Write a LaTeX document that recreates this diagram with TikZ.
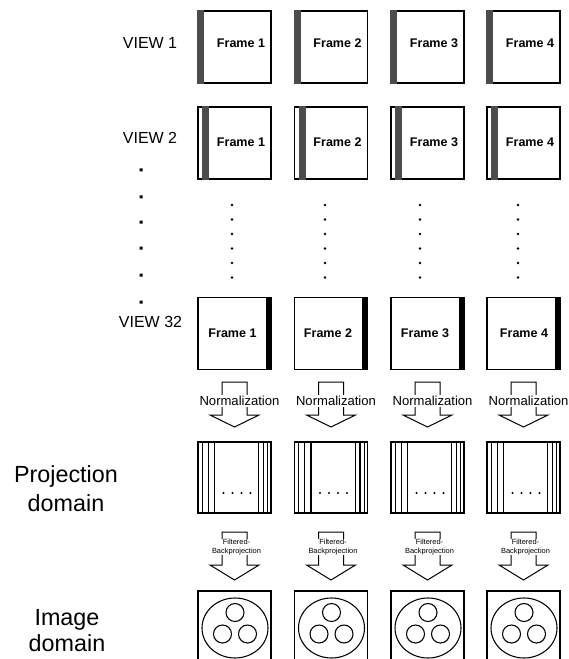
\documentclass[tikz,border=0pt]{standalone}
\usepackage{fontspec}
\setmainfont{Liberation Sans}
\usepackage{tikz}
\newcommand{\stripcolor}{black!70}
\newcommand{\boxwidth}{54.75pt}
\newcommand{\boxheight}{54pt}
\newcommand{\smallr}{6.75pt}

\begin{document}
\begin{tikzpicture}[x=0.75pt, y=-0.75pt,
frame/.style={draw, line width=0.9pt, minimum width=\boxwidth, minimum height=\boxheight, inner sep=0pt},
ftext/.style={font=\fontsize{9.4}{11}\selectfont\bfseries},
view/.style={font=\fontsize{12}{14}\selectfont},
domaintext/.style={align=center},
blockarrow/.style={draw, line width=0.75pt, line join=miter},
normtext/.style={fill=white, inner sep=0.6pt, font=\fontsize{9.8}{11}\selectfont},
fbptext/.style={fill=white, inner sep=0.4pt, align=center, font=\fontsize{5.6}{6.3}\selectfont},
pline/.style={line width=0.7pt},
thickpline/.style={line width=1.3pt}]
\clip (0,0) rectangle (568,659);
%labels
\node[view] (v1) at (150,43) {VIEW 1};
\node[view] (v2) at (150,138) {VIEW 2};
\node[view] (v32) at (150.5,322) {VIEW 32};
\fill (139.5,168.5) rectangle (142.5,171.5) (139.5,195.5) rectangle (142.5,198.5) (139.5,220.5) rectangle (142.5,223.5) (139.5,246.5) rectangle (142.5,249.5) (139.5,273.5) rectangle (142.5,276.5) (139.5,300.5) rectangle (142.5,303.5);
\node[domaintext, font=\fontsize{17.5}{21.75}\selectfont] (pd) at (66,488.5) {Projection\\domain};
\node[domaintext, font=\fontsize{17.5}{19.5}\selectfont] (id) at (67,631) {Image\\domain};
%view 1
\node[frame] (a1) at (234.5,47) {};
\node[frame] (a2) at (331,47) {};
\node[frame] (a3) at (427.5,47) {};
\node[frame] (a4) at (523.5,47) {};
\fill[\stripcolor] (a1.north west) rectangle ([xshift=5.25pt]a1.south west);
\fill[\stripcolor] (a2.north west) rectangle ([xshift=5.25pt]a2.south west);
\fill[\stripcolor] (a3.north west) rectangle ([xshift=5.25pt]a3.south west);
\fill[\stripcolor] (a4.north west) rectangle ([xshift=5.25pt]a4.south west);
\node[ftext] (ta1) at (241,43) {Frame 1};
\node[ftext] (ta2) at (337.5,43) {Frame 2};
\node[ftext] (ta3) at (434,43) {Frame 3};
\node[ftext] (ta4) at (530,43) {Frame 4};
%view 2
\node[frame] (b1) at (234.5,143) {};
\node[frame] (b2) at (331,143) {};
\node[frame] (b3) at (427.5,143) {};
\node[frame] (b4) at (523.5,143) {};
\fill[\stripcolor] ([xshift=3.75pt]b1.north west) rectangle ([xshift=9pt]b1.south west);
\fill[\stripcolor] ([xshift=3.75pt]b2.north west) rectangle ([xshift=9pt]b2.south west);
\fill[\stripcolor] ([xshift=3.75pt]b3.north west) rectangle ([xshift=9pt]b3.south west);
\fill[\stripcolor] ([xshift=3.75pt]b4.north west) rectangle ([xshift=9pt]b4.south west);
\node[ftext] (tb1) at (241,142) {Frame 1};
\node[ftext] (tb2) at (337.5,142) {Frame 2};
\node[ftext] (tb3) at (434,142) {Frame 3};
\node[ftext] (tb4) at (530,142) {Frame 4};
%dots
\fill (232,205) circle (1.1pt) (232,219.5) circle (1.1pt) (232,234) circle (1.1pt) (232,248.5) circle (1.1pt) (232,263) circle (1.1pt) (232,277.5) circle (1.1pt);
\fill (325,205) circle (1.1pt) (325,219.5) circle (1.1pt) (325,234) circle (1.1pt) (325,248.5) circle (1.1pt) (325,263) circle (1.1pt) (325,277.5) circle (1.1pt);
\fill (420,205) circle (1.1pt) (420,219.5) circle (1.1pt) (420,234) circle (1.1pt) (420,248.5) circle (1.1pt) (420,263) circle (1.1pt) (420,277.5) circle (1.1pt);
\fill (518,205) circle (1.1pt) (518,219.5) circle (1.1pt) (518,234) circle (1.1pt) (518,248.5) circle (1.1pt) (518,263) circle (1.1pt) (518,277.5) circle (1.1pt);
%view 32
\node[frame] (c1) at (234.5,333.5) {};
\node[frame] (c2) at (331,333.5) {};
\node[frame] (c3) at (427.5,333.5) {};
\node[frame] (c4) at (523.5,333.5) {};
\fill ([xshift=-4.5pt]c1.north east) rectangle (c1.south east);
\fill ([xshift=-4.5pt]c2.north east) rectangle (c2.south east);
\fill ([xshift=-4.5pt]c3.north east) rectangle (c3.south east);
\fill ([xshift=-4.5pt]c4.north east) rectangle (c4.south east);
\node[ftext] (tc1) at (232.5,333) {Frame 1};
\node[ftext] (tc2) at (328,333) {Frame 2};
\node[ftext] (tc3) at (425,333) {Frame 3};
\node[ftext] (tc4) at (524,333) {Frame 4};
%normalization
\draw[blockarrow] (222,415) -- (222,382) -- (247,382) -- (247,415) -- (259,415) -- (234.5,427) -- (210,415) -- cycle;
\draw[blockarrow] (318.5,415) -- (318.5,382) -- (343.5,382) -- (343.5,415) -- (355.5,415) -- (331,427) -- (306.5,415) -- cycle;
\draw[blockarrow] (415,415) -- (415,382) -- (440,382) -- (440,415) -- (452,415) -- (427.5,427) -- (403,415) -- cycle;
\draw[blockarrow] (511,415) -- (511,382) -- (536,382) -- (536,415) -- (548,415) -- (523.5,427) -- (499,415) -- cycle;
\node[normtext] (n1) at (239.5,401) {Normalization};
\node[normtext] (n2) at (336,401) {Normalization};
\node[normtext] (n3) at (432.5,401) {Normalization};
\node[normtext] (n4) at (528.5,401) {Normalization};
%projection domain
\node[frame, minimum height=53.25pt] (p1) at (234.5,477.5) {};
\node[frame, minimum height=53.25pt] (p2) at (331,477.5) {};
\node[frame, minimum height=53.25pt] (p3) at (427.5,477.5) {};
\node[frame, minimum height=53.25pt] (p4) at (523.5,477.5) {};
\draw[pline] ([xshift=3.75pt]p1.north west) -- ([xshift=3.75pt]p1.south west);
\draw[pline] ([xshift=8.25pt]p1.north west) -- ([xshift=8.25pt]p1.south west);
\draw[thickpline] ([xshift=12.75pt]p1.north west) -- ([xshift=12.75pt]p1.south west);
\draw[pline] ([xshift=-9.75pt]p1.north east) -- ([xshift=-9.75pt]p1.south east);
\draw[thickpline] ([xshift=-6pt]p1.north east) -- ([xshift=-6pt]p1.south east);
\draw[pline] ([xshift=-3pt]p1.north east) -- ([xshift=-3pt]p1.south east);
\draw[pline] ([xshift=3.75pt]p2.north west) -- ([xshift=3.75pt]p2.south west);
\draw[pline] ([xshift=8.25pt]p2.north west) -- ([xshift=8.25pt]p2.south west);
\draw[thickpline] ([xshift=12.75pt]p2.north west) -- ([xshift=12.75pt]p2.south west);
\draw[pline] ([xshift=-9.75pt]p2.north east) -- ([xshift=-9.75pt]p2.south east);
\draw[thickpline] ([xshift=-6pt]p2.north east) -- ([xshift=-6pt]p2.south east);
\draw[pline] ([xshift=-3pt]p2.north east) -- ([xshift=-3pt]p2.south east);
\draw[pline] ([xshift=3.75pt]p3.north west) -- ([xshift=3.75pt]p3.south west);
\draw[pline] ([xshift=8.25pt]p3.north west) -- ([xshift=8.25pt]p3.south west);
\draw[thickpline] ([xshift=12.75pt]p3.north west) -- ([xshift=12.75pt]p3.south west);
\draw[pline] ([xshift=-9.75pt]p3.north east) -- ([xshift=-9.75pt]p3.south east);
\draw[thickpline] ([xshift=-6pt]p3.north east) -- ([xshift=-6pt]p3.south east);
\draw[pline] ([xshift=-3pt]p3.north east) -- ([xshift=-3pt]p3.south east);
\draw[pline] ([xshift=3.75pt]p4.north west) -- ([xshift=3.75pt]p4.south west);
\draw[pline] ([xshift=8.25pt]p4.north west) -- ([xshift=8.25pt]p4.south west);
\draw[thickpline] ([xshift=12.75pt]p4.north west) -- ([xshift=12.75pt]p4.south west);
\draw[pline] ([xshift=-9.75pt]p4.north east) -- ([xshift=-9.75pt]p4.south east);
\draw[thickpline] ([xshift=-6pt]p4.north east) -- ([xshift=-6pt]p4.south east);
\draw[pline] ([xshift=-3pt]p4.north east) -- ([xshift=-3pt]p4.south east);
\fill (223.5,493) circle (0.9pt) (232.5,493) circle (0.9pt) (241.5,493) circle (0.9pt) (250.5,493) circle (0.9pt);
\fill (320,493) circle (0.9pt) (329,493) circle (0.9pt) (338,493) circle (0.9pt) (347,493) circle (0.9pt);
\fill (416.5,493) circle (0.9pt) (425.5,493) circle (0.9pt) (434.5,493) circle (0.9pt) (443.5,493) circle (0.9pt);
\fill (512.5,493) circle (0.9pt) (521.5,493) circle (0.9pt) (530.5,493) circle (0.9pt) (539.5,493) circle (0.9pt);
%filtered backprojection
\draw[blockarrow] (222,565) -- (222,532) -- (247,532) -- (247,565) -- (259,565) -- (234.5,580) -- (210,565) -- cycle;
\draw[blockarrow] (318.5,565) -- (318.5,532) -- (343.5,532) -- (343.5,565) -- (355.5,565) -- (331,580) -- (306.5,565) -- cycle;
\draw[blockarrow] (415,565) -- (415,532) -- (440,532) -- (440,565) -- (452,565) -- (427.5,580) -- (403,565) -- cycle;
\draw[blockarrow] (511,565) -- (511,532) -- (536,532) -- (536,565) -- (548,565) -- (523.5,580) -- (499,565) -- cycle;
\node[fbptext] (r1) at (236.5,547) {Filtered-\\Backprojection};
\node[fbptext] (r2) at (333,547) {Filtered-\\Backprojection};
\node[fbptext] (r3) at (429.5,547) {Filtered-\\Backprojection};
\node[fbptext] (r4) at (525.5,547) {Filtered-\\Backprojection};
%image domain
\node[frame] (m1) at (234.5,627) {};
\node[frame] (m2) at (331,627) {};
\node[frame] (m3) at (427.5,627) {};
\node[frame] (m4) at (523.5,627) {};
\draw[line width=0.8pt] (235,628) ellipse (24.75pt and 22.5pt);
\draw[line width=0.8pt] (331.5,628) ellipse (24.75pt and 22.5pt);
\draw[line width=0.8pt] (428,628) ellipse (24.75pt and 22.5pt);
\draw[line width=0.8pt] (524,628) ellipse (24.75pt and 22.5pt);
\draw[line width=0.8pt] (235,612.5) circle (\smallr) (222.5,634) circle (\smallr) (247.5,634) circle (\smallr);
\draw[line width=0.8pt] (331.5,612.5) circle (\smallr) (319,634) circle (\smallr) (344,634) circle (\smallr);
\draw[line width=0.8pt] (428,612.5) circle (\smallr) (415.5,634) circle (\smallr) (440.5,634) circle (\smallr);
\draw[line width=0.8pt] (524,612.5) circle (\smallr) (511.5,634) circle (\smallr) (536.5,634) circle (\smallr);
\end{tikzpicture}
\end{document}
